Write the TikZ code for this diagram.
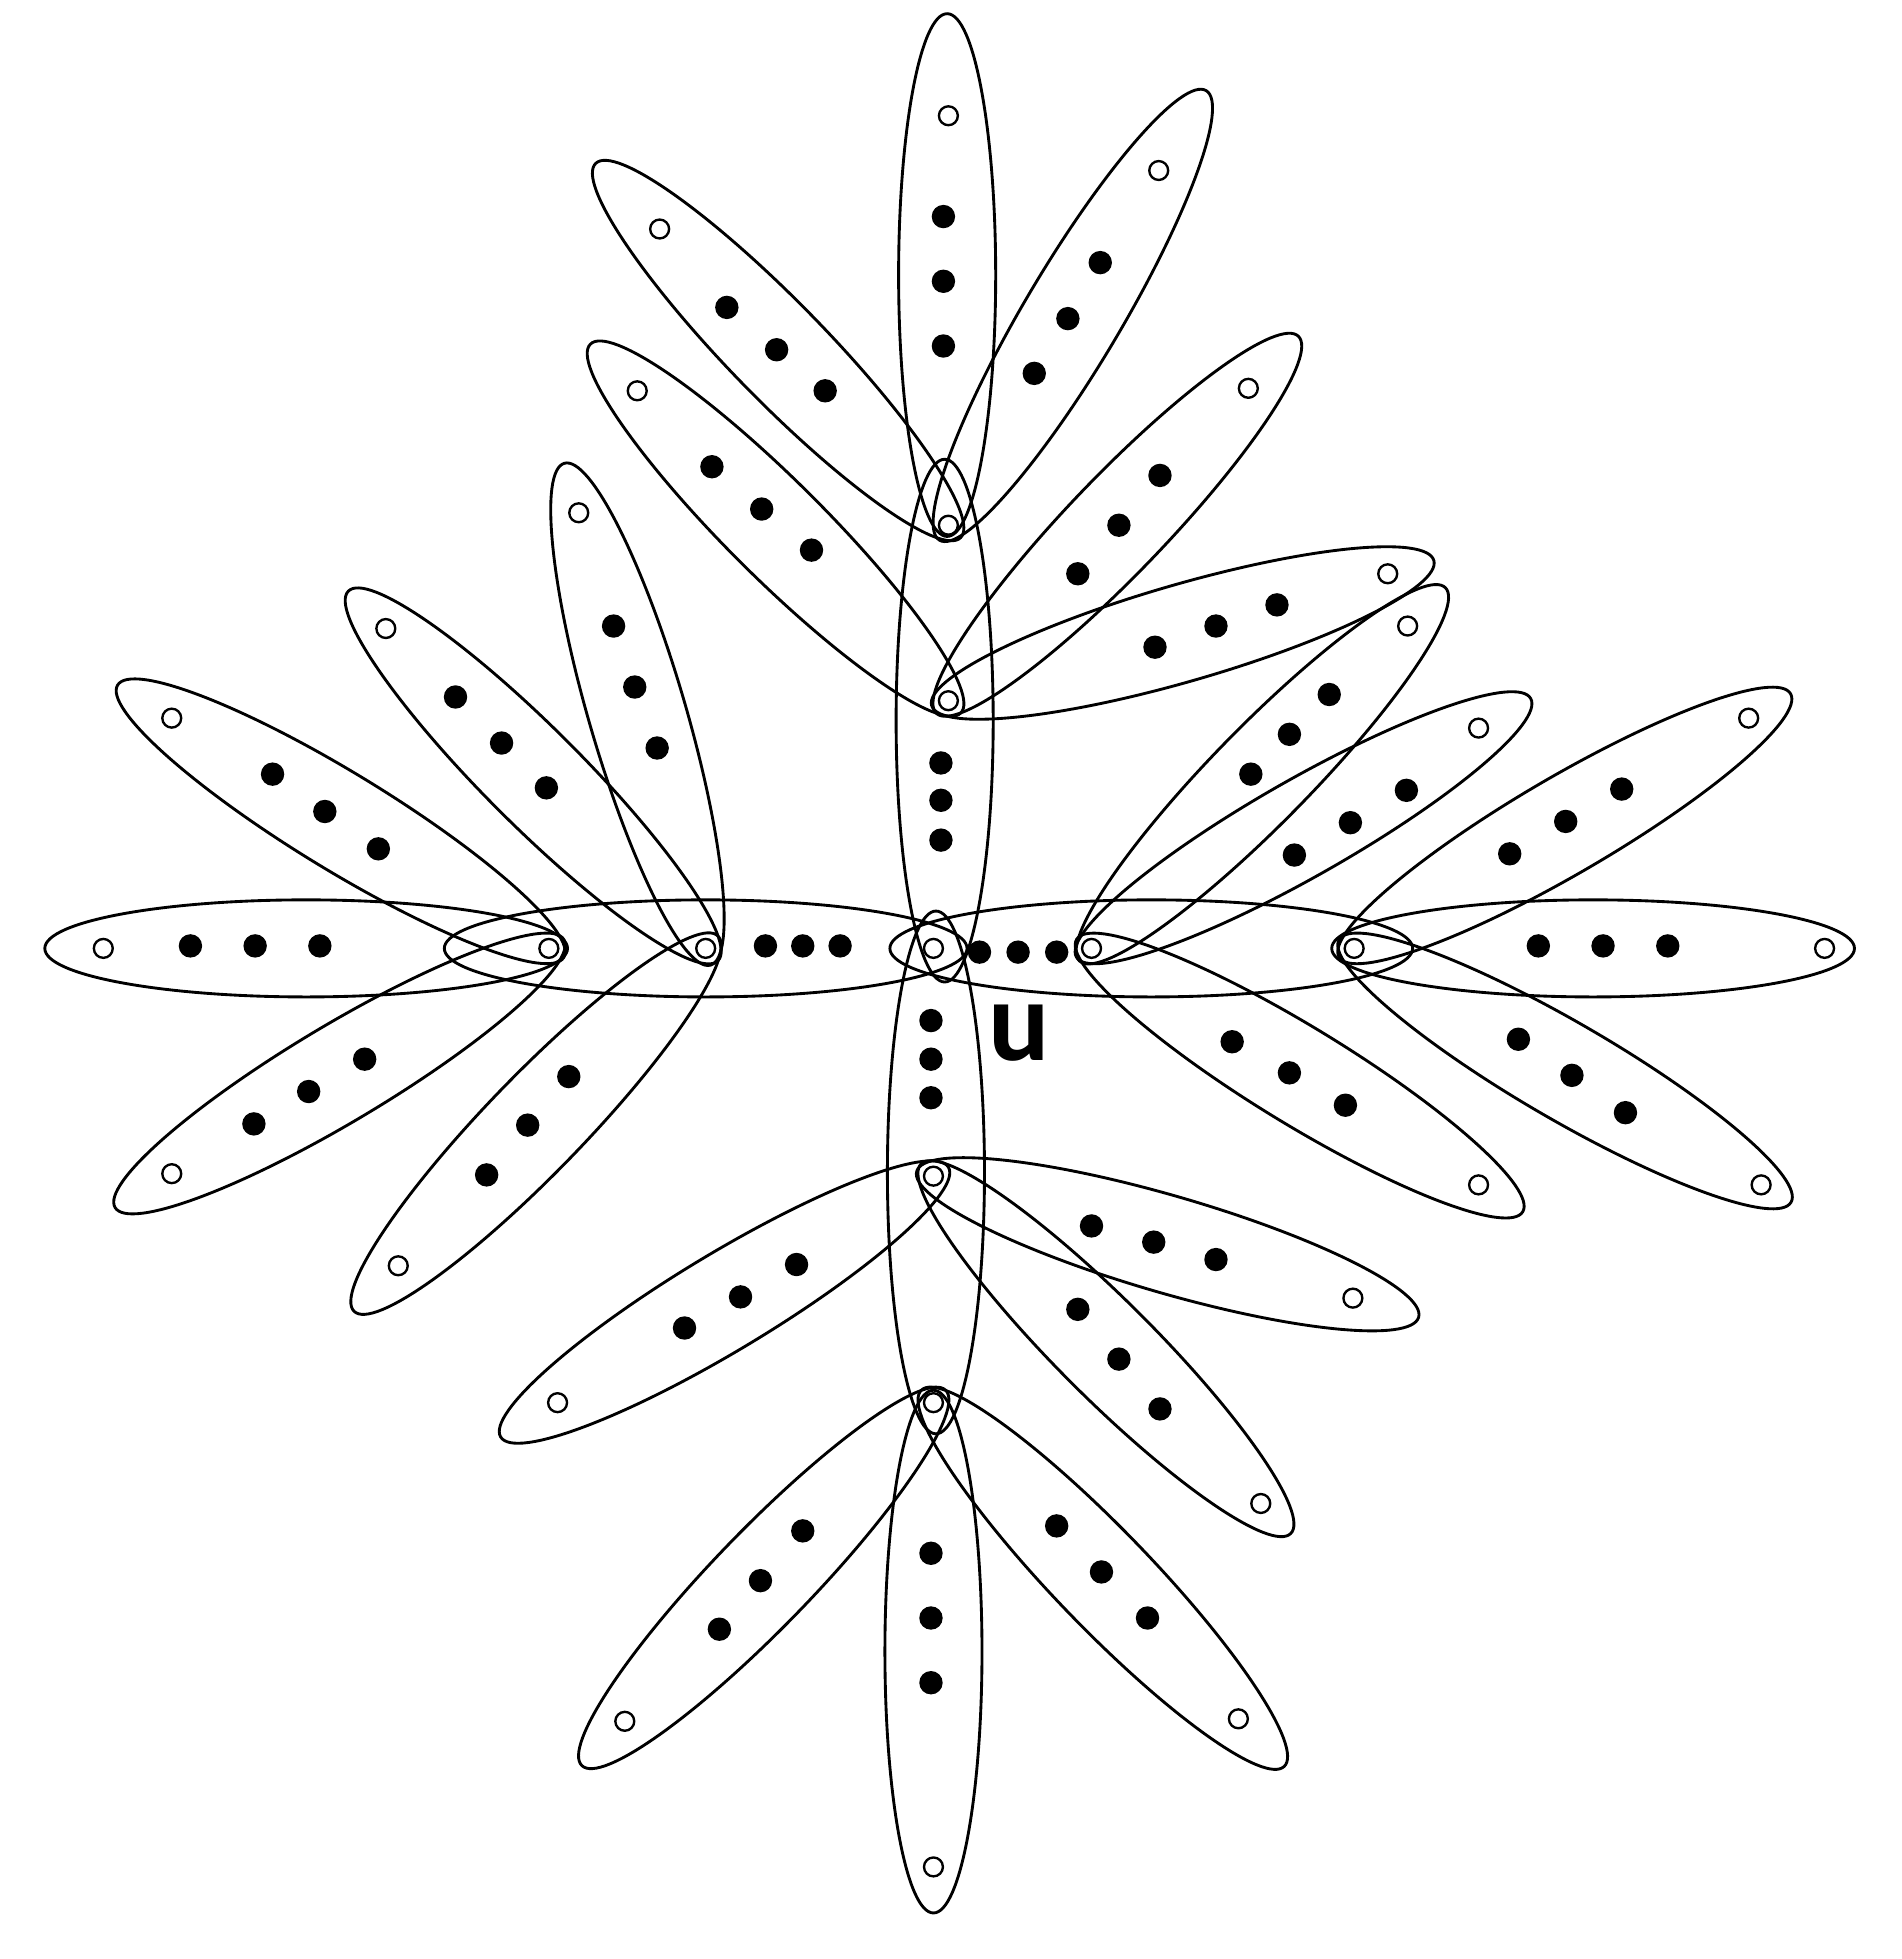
\documentclass[tikz,border=0pt]{standalone}
\usepackage{fontspec}
\setmainfont{Carlito}
\usetikzlibrary{shapes.geometric,calc}
\tikzset{
  fv/.style={circle,fill=black,draw=none,minimum size=9.4pt,inner sep=0pt},
  ov/.style={circle,draw=black,line width=0.95pt,minimum size=7.6pt,inner sep=0pt},
  hedge/.style={ellipse,draw=black,line width=1.15pt,minimum width=210pt,minimum height=39pt,inner sep=0pt},
  lab/.style={font=\fontsize{46}{50}\selectfont\bfseries,inner sep=0pt}
}
% #1 edge name, #2 junction node, #3 leaf, #4-#6 dots
\newcommand\fanedge[6]{%
  \node[ov] (#1l) at #3 {};
  \node[fv] (#1a) at #4 {};
  \node[fv] (#1b) at #5 {};
  \node[fv] (#1c) at #6 {};
  \path let \p1=($(#1l)-(#2)$), \n1={atan2(\y1,\x1)} in
    node[hedge,rotate=\n1] (#1) at ($(#2)!98pt!(#1l)$) {};
}
\begin{document}
\begin{tikzpicture}[x=0.5pt,y=-0.5pt]
\fill[white] (0,0) rectangle (1528,1574);
\useasboundingbox (0,0) rectangle (1528,1574);
% junctions and centre
\node[ov] (O) at (750,762) {};
\node[ov] (J1) at (762,422) {};
\node[ov] (J2) at (762,563) {};
\node[ov] (J3) at (441,762) {};
\node[ov] (J4) at (567,762) {};
\node[ov] (J5) at (877,762) {};
\node[ov] (J6) at (1088,762) {};
\node[ov] (J7) at (750,945) {};
\node[ov] (J8) at (750,1127) {};
% leaves of the chains
\node[ov] (LT) at (762,93) {};
\node[ov] (LL) at (83,762) {};
\node[ov] (LR) at (1466,762) {};
\node[ov] (LB) at (750,1500) {};
% chain dots
\foreach \i/\y in {1/174,2/226,3/278} \node[fv] (v1\i) at (758,\y) {};
\foreach \i/\y in {1/613,2/643,3/675} \node[fv] (v2\i) at (756,\y) {};
\foreach \i/\y in {1/820,2/851,3/882} \node[fv] (v3\i) at (748,\y) {};
\foreach \i/\y in {1/1248,2/1300,3/1352} \node[fv] (v4\i) at (748,\y) {};
\foreach \i/\x in {1/153,2/205,3/257} \node[fv] (h1\i) at (\x,760) {};
\foreach \i/\x in {1/615,2/645,3/675} \node[fv] (h2\i) at (\x,760) {};
\foreach \i/\x in {1/787,2/818,3/849} \node[fv] (h3\i) at (\x,765) {};
\foreach \i/\x in {1/1236,2/1288,3/1340} \node[fv] (h4\i) at (\x,760) {};
% chain edges
\node[hedge] (H1) at (246,762) {};
\node[hedge] (H2) at (567,762) {};
\node[hedge] (H3) at (925,762) {};
\node[hedge] (H4) at (1280,762) {};
\node[hedge,rotate=90] (V1) at (761,221) {};
\node[hedge,rotate=90] (V2) at (759,579) {};
\node[hedge,rotate=90] (V3) at (752,942) {};
\node[hedge,rotate=90] (V4) at (750,1327) {};
% fan edges
\fanedge{fA}{J1}{(530,184)}{(584,247)}{(624,281)}{(663,314)}
\fanedge{fB}{J1}{(931,137)}{(884,211)}{(858,256)}{(831,300)}
\fanedge{fC}{J2}{(512,314)}{(572,375)}{(612,409)}{(652,442)}
\fanedge{fD}{J2}{(1003,312)}{(932,382)}{(899,422)}{(866,461)}
\fanedge{fE}{J2}{(1115,461)}{(1026,486)}{(977,503)}{(928,520)}
\fanedge{fF}{J3}{(138,577)}{(219,622)}{(261,652)}{(304,682)}
\fanedge{fG}{J3}{(138,943)}{(293,851)}{(248,877)}{(204,903)}
\fanedge{fH}{J4}{(310,505)}{(366,560)}{(403,597)}{(439,633)}
\fanedge{fI}{J4}{(465,412)}{(493,503)}{(510,552)}{(528,601)}
\fanedge{fJ}{J4}{(320,1017)}{(457,865)}{(424,904)}{(391,944)}
\fanedge{fK}{J5}{(1131,503)}{(1068,558)}{(1036,590)}{(1005,622)}
\fanedge{fL}{J5}{(1188,585)}{(1130,635)}{(1085,661)}{(1040,687)}
\fanedge{fM}{J5}{(1188,952)}{(990,837)}{(1036,862)}{(1081,888)}
\fanedge{fN}{J6}{(1405,577)}{(1303,634)}{(1258,660)}{(1213,686)}
\fanedge{fO}{J6}{(1415,952)}{(1220,835)}{(1263,864)}{(1306,894)}
\fanedge{fP}{J7}{(448,1127)}{(640,1016)}{(595,1042)}{(550,1067)}
\fanedge{fQ}{J7}{(1087,1043)}{(877,985)}{(927,998)}{(977,1012)}
\fanedge{fR}{J7}{(1013,1208)}{(866,1052)}{(899,1092)}{(932,1132)}
\fanedge{fS}{J8}{(502,1383)}{(645,1230)}{(611,1270)}{(578,1309)}
\fanedge{fT}{J8}{(995,1381)}{(849,1226)}{(885,1263)}{(922,1300)}
% label
\node[lab] (ulab) at (819,830) {u};
\end{tikzpicture}
\end{document}
